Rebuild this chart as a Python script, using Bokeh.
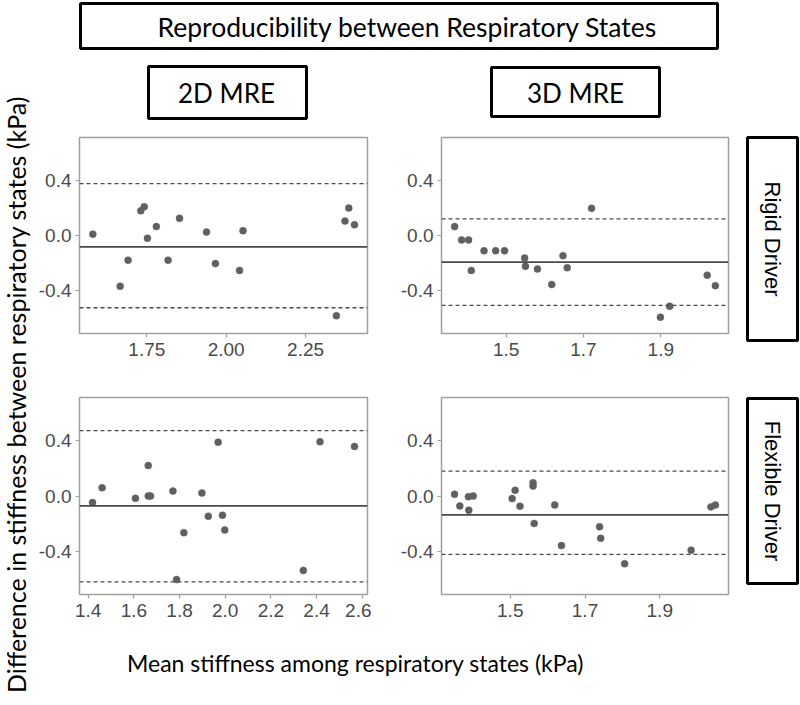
import math
from bokeh.plotting import figure
from bokeh.models import Range1d, FixedTicker, PrintfTickFormatter, Span, ColumnDataSource
from bokeh.layouts import row, column
from bokeh.embed import file_html
from bokeh.resources import INLINE
from bokeh.core.properties import value

# ---------------- data ----------------
title_text = "Reproducibility between Respiratory States"
col_labels = ["2D MRE", "3D MRE"]
row_labels = ["Rigid Driver", "Flexible Driver"]
x_title = "Mean stiffness among respiratory states (kPa)"
y_title = "Difference in stiffness between respiratory states (kPa)"

y_ticks = [-0.4, 0.0, 0.4]

# 2D MRE, Rigid Driver
rigid2d_mean = [1.580, 1.666, 1.691, 1.731, 1.742, 1.752, 1.780, 1.817, 1.853,
                1.938, 1.966, 2.042, 2.053, 2.347, 2.374, 2.386, 2.404]
rigid2d_diff = [0.010, -0.370, -0.180, 0.180, 0.210, -0.020, 0.065, -0.180, 0.125,
                0.025, -0.205, -0.255, 0.035, -0.585, 0.105, 0.200, 0.078]
rigid2d_bias = -0.083
rigid2d_loa = [0.379, -0.527]
rigid2d_xticks = [1.75, 2.00, 2.25]

# 3D MRE, Rigid Driver
rigid3d_mean = [1.367, 1.385, 1.403, 1.410, 1.443, 1.473, 1.496, 1.548, 1.550,
                1.581, 1.618, 1.647, 1.658, 1.721, 1.899, 1.923, 2.020, 2.041]
rigid3d_diff = [0.065, -0.032, -0.032, -0.255, -0.111, -0.111, -0.111, -0.164, -0.225,
                -0.244, -0.358, -0.147, -0.235, 0.198, -0.596, -0.516, -0.290, -0.366]
rigid3d_bias = -0.194
rigid3d_loa = [0.121, -0.510]
rigid3d_xticks = [1.5, 1.7, 1.9]

# 2D MRE, Flexible Driver
flex2d_mean = [1.419, 1.461, 1.607, 1.663, 1.663, 1.673, 1.771, 1.787, 1.819,
               1.898, 1.926, 1.969, 1.988, 1.998, 2.342, 2.415, 2.566]
flex2d_diff = [-0.048, 0.060, -0.017, 0.221, 0.000, 0.000, 0.036, -0.607, -0.266,
               0.022, -0.147, 0.391, -0.140, -0.247, -0.540, 0.394, 0.360]
flex2d_bias = -0.072
flex2d_loa = [0.475, -0.624]
flex2d_xticks = [1.4, 1.6, 1.8, 2.0, 2.2, 2.4, 2.6]

# 3D MRE, Flexible Driver
flex3d_mean = [1.351, 1.365, 1.388, 1.389, 1.401, 1.505, 1.513, 1.526, 1.561, 1.561,
               1.564, 1.619, 1.637, 1.739, 1.742, 1.806, 1.984, 2.037, 2.049]
flex3d_diff = [0.012, -0.072, -0.005, -0.103, 0.000, -0.019, 0.041, -0.074, 0.096, 0.072,
               -0.199, -0.065, -0.360, -0.223, -0.307, -0.491, -0.393, -0.079, -0.065]
flex3d_bias = -0.137
flex3d_loa = [0.180, -0.424]
flex3d_xticks = [1.5, 1.7, 1.9]

# ---------------- style ----------------
LABEL_FONT = "Lato"
TICK_FONT = "Liberation Sans"
FRAME_COL = "#a0a0a0"
TICK_TXT = "#4a4a4a"
PT_COL = "#606060"
LINE_COL = "#4a4a4a"


def annot_fig(w, h):
    f = figure(width=w, height=h, x_range=Range1d(0, w), y_range=Range1d(0, h),
               x_axis_type=None, y_axis_type=None, output_backend="svg",
               toolbar_location=None, min_border=0, outline_line_color=None,
               background_fill_color="white", border_fill_color="white")
    f.xgrid.visible = False
    f.ygrid.visible = False
    return f


def box(f, h, left, right, top, bottom, lw=3):
    f.quad(left=[left], right=[right], top=[h - top], bottom=[h - bottom],
           fill_color="white", line_color="black", line_width=lw)


def txt(f, h, x, top, s, size, font, angle=0.0, color="black"):
    f.text(x=[x], y=[h - top], text=[s], angle=angle, text_align="center",
           text_baseline="middle", text_font=value(font),
           text_font_size=size, text_color=color)


def panel(xs, ys, bias, loa, xr, xticks, xfmt, width, height, bl, br, bt, bb):
    p = figure(width=width, height=height, x_range=Range1d(*xr),
               y_range=Range1d(-0.715, 0.715), output_backend="svg",
               toolbar_location=None, min_border_left=bl, min_border_right=br,
               min_border_top=bt, min_border_bottom=bb,
               outline_line_color=FRAME_COL, outline_line_width=1.5,
               background_fill_color="white", border_fill_color="white")
    p.xgrid.visible = False
    p.ygrid.visible = False
    for ax in (p.xaxis[0], p.yaxis[0]):
        ax.axis_line_color = None
        ax.major_tick_line_color = FRAME_COL
        ax.major_tick_line_width = 1.2
        ax.major_tick_out = 4
        ax.major_tick_in = 0
        ax.minor_tick_line_color = None
        ax.major_label_text_font = TICK_FONT
        ax.major_label_text_font_size = "19px"
        ax.major_label_text_color = TICK_TXT
    p.xaxis[0].ticker = FixedTicker(ticks=xticks)
    p.xaxis[0].formatter = PrintfTickFormatter(format=xfmt)
    p.xaxis[0].major_label_standoff = 5
    p.yaxis[0].ticker = FixedTicker(ticks=y_ticks)
    p.yaxis[0].formatter = PrintfTickFormatter(format="%.1f")
    p.yaxis[0].major_label_standoff = 4

    p.add_layout(Span(location=bias, dimension="width", line_color=LINE_COL,
                      line_width=1.8))
    for v in loa:
        p.add_layout(Span(location=v, dimension="width", line_color=LINE_COL,
                          line_width=1.3, line_dash="4 3"))
    src = ColumnDataSource(dict(x=xs, y=ys))
    p.scatter("x", "y", source=src, size=7, fill_color=PT_COL,
              line_color=PT_COL, line_width=0.5)
    return p


# ---------------- panels ----------------
TOP_H = 246
BOT_H = 257
p_tl = panel(rigid2d_mean, rigid2d_diff, rigid2d_bias, rigid2d_loa, (1.538, 2.445),
             rigid2d_xticks, "%.2f", 339, TOP_H, 47, 4, 10, 40)
p_tr = panel(rigid3d_mean, rigid3d_diff, rigid3d_bias, rigid3d_loa, (1.333, 2.075),
             rigid3d_xticks, "%.1f", 363, TOP_H, 70, 6, 10, 40)
p_bl = panel(flex2d_mean, flex2d_diff, flex2d_bias, flex2d_loa, (1.362, 2.623),
             flex2d_xticks, "%.1f", 339, BOT_H, 47, 4, 24, 36)
p_br = panel(flex3d_mean, flex3d_diff, flex3d_bias, flex3d_loa, (1.316, 2.084),
             flex3d_xticks, "%.1f", 363, BOT_H, 70, 6, 24, 36)

# strips on the right
SW = 66
s_top = annot_fig(SW, TOP_H)
box(s_top, TOP_H, 13, 63, 10, 213)
txt(s_top, TOP_H, 38, 111.5, row_labels[0], "22px", TICK_FONT, angle=-math.pi / 2)
s_bot = annot_fig(SW, BOT_H)
box(s_bot, BOT_H, 13, 63, 25, 210)
txt(s_bot, BOT_H, 38, 117.5, row_labels[1], "22px", TICK_FONT, angle=-math.pi / 2)

# y title (left strip, full height)
YW, YH = 32, 705
ylab = annot_fig(YW, YH)
txt(ylab, YH, 15, 394, y_title, "25px", LABEL_FONT, angle=math.pi / 2)

# header (starts at page x = YW)
HW, HH = 800 - YW, 127
head = annot_fig(HW, HH)
box(head, HH, 80 - YW, 717 - YW, 3, 48)
txt(head, HH, 407 - YW, 26, title_text, "26.5px", LABEL_FONT)
box(head, HH, 148 - YW, 306 - YW, 66, 118)
txt(head, HH, 226 - YW, 92, col_labels[0], "26px", LABEL_FONT)
box(head, HH, 491 - YW, 659 - YW, 67, 116)
txt(head, HH, 575 - YW, 92, col_labels[1], "26px", LABEL_FONT)

# x title
XH = 75
xlab = annot_fig(HW, XH)
txt(xlab, XH, 355 - YW, 32, x_title, "23px", LABEL_FONT)

panels = row(column(p_tl, p_bl), column(p_tr, p_br), column(s_top, s_bot))
layout = row(ylab, column(head, panels, xlab))

open("out.html", "w").write(file_html(layout, INLINE))
